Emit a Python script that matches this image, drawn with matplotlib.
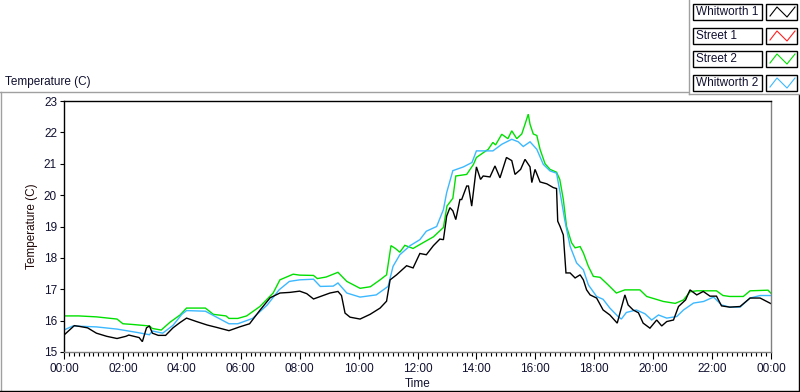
import matplotlib
matplotlib.use("Agg")
import matplotlib.pyplot as plt
from matplotlib.lines import Line2D
from matplotlib.patches import Rectangle
from matplotlib.ticker import MultipleLocator, FuncFormatter

plt.rcParams['font.family'] = ['Liberation Sans', 'DejaVu Sans']

# ---- data (hours since midnight, temperature in C) ----
whit1_h = [0.0, 0.35, 0.5, 0.8, 1.1, 1.45, 1.8, 2.1, 2.2, 2.55, 2.66, 2.8, 2.9, 3.0, 3.2, 3.45, 3.7,
           3.94, 4.16, 4.5, 4.86, 5.2, 5.6, 5.96, 6.3, 6.65, 7.0, 7.33, 7.67, 8.0, 8.24, 8.47, 9.03,
           9.3, 9.42, 9.54, 9.71, 10.05, 10.39, 10.73, 10.95, 11.07, 11.29, 11.63, 11.85, 12.08, 12.3,
           12.54, 12.76, 12.88, 12.99, 13.1, 13.2, 13.3, 13.44, 13.5, 13.67, 13.73, 13.84, 14.0, 14.14,
           14.23, 14.46, 14.63, 14.8, 15.02, 15.2, 15.31, 15.5, 15.65, 15.82, 15.88, 15.99, 16.16,
           16.39, 16.61, 16.72, 16.76, 16.84, 16.95, 17.04, 17.18, 17.35, 17.52, 17.63, 17.74, 17.86,
           18.08, 18.3, 18.53, 18.78, 18.9, 19.04, 19.15, 19.32, 19.5, 19.66, 19.89, 20.12, 20.29,
           20.46, 20.69, 20.86, 21.1, 21.25, 21.48, 21.7, 21.93, 22.15, 22.32, 22.6, 22.95, 23.29,
           23.63, 24.0]
whit1_t = [15.54, 15.84, 15.82, 15.77, 15.6, 15.5, 15.43, 15.5, 15.54, 15.46, 15.33, 15.77, 15.83, 15.6,
           15.53, 15.53, 15.77, 15.94, 16.08, 15.97, 15.86, 15.78, 15.68, 15.8, 15.9, 16.33, 16.73,
           16.88, 16.9, 16.94, 16.86, 16.69, 16.88, 16.93, 16.8, 16.24, 16.11, 16.05, 16.2, 16.4, 16.62,
           17.3, 17.46, 17.75, 17.68, 18.14, 18.1, 18.39, 18.6, 18.58, 19.33, 19.6, 19.5, 19.22, 19.86,
           19.86, 20.29, 20.29, 19.65, 20.9, 20.5, 20.61, 20.58, 20.93, 20.55, 21.2, 21.1, 20.66, 20.82,
           21.14, 20.9, 20.4, 20.82, 20.42, 20.36, 20.24, 20.21, 19.17, 19.0, 18.73, 17.52, 17.52, 17.36,
           17.46, 17.3, 16.98, 16.82, 16.72, 16.34, 16.18, 15.92, 16.34, 16.82, 16.5, 16.34, 16.25,
           15.92, 15.76, 16.02, 15.83, 15.97, 16.02, 16.45, 16.66, 16.98, 16.82, 16.93, 16.78, 16.78,
           16.47, 16.43, 16.45, 16.72, 16.72, 16.54]

street1_h = []
street1_t = []

street2_h = [0.0, 0.5, 1.1, 1.8, 2.0, 2.3, 2.9, 3.0, 3.3, 3.6, 3.94, 4.16, 4.8, 5.07, 5.5, 5.6, 5.9,
             6.2, 6.65, 7.1, 7.33, 7.78, 8.0, 8.47, 8.6, 8.9, 9.3, 9.6, 10.05, 10.4, 10.73, 10.95,
             11.1, 11.25, 11.4, 11.57, 11.85, 12.2, 12.54, 12.88, 13.0, 13.2, 13.3, 13.67, 13.9, 14.0,
             14.4, 14.56, 14.65, 14.86, 15.07, 15.2, 15.37, 15.54, 15.65, 15.76, 15.82, 15.93, 16.05,
             16.16, 16.33, 16.5, 16.72, 16.83, 16.95, 17.06, 17.23, 17.35, 17.52, 17.63, 17.8, 17.97,
             18.2, 18.47, 18.75, 19.04, 19.55, 19.78, 20.35, 20.75, 21.03, 21.25, 21.48, 22.15, 22.37,
             22.6, 23.06, 23.29, 23.9, 24.0]
street2_t = [16.15, 16.15, 16.12, 16.05, 15.9, 15.88, 15.83, 15.75, 15.7, 15.95, 16.18, 16.4, 16.4,
             16.2, 16.15, 16.07, 16.07, 16.15, 16.45, 16.88, 17.3, 17.48, 17.45, 17.44, 17.34, 17.39,
             17.54, 17.25, 17.03, 17.08, 17.3, 17.46, 18.39, 18.3, 18.18, 18.4, 18.3, 18.49, 18.67,
             18.97, 19.65, 19.9, 20.61, 20.66, 20.98, 21.2, 21.46, 21.68, 21.6, 21.94, 21.8, 22.05,
             21.8, 21.95, 22.26, 22.58, 22.26, 21.95, 21.9, 21.46, 21.0, 20.82, 20.73, 20.5, 19.86,
             19.0, 18.48, 18.32, 18.36, 18.16, 17.73, 17.41, 17.38, 17.14, 16.88, 16.98, 16.98, 16.77,
             16.61, 16.55, 16.66, 16.92, 16.95, 16.95, 16.8, 16.77, 16.77, 16.95, 16.97, 16.87]

whit2_h = [0.0, 0.3, 1.1, 1.8, 2.5, 2.9, 3.0, 3.35, 3.7, 4.0, 4.16, 4.8, 5.2, 5.6, 5.9, 6.4, 6.9,
           7.3, 7.65, 8.0, 8.47, 8.7, 9.14, 9.3, 9.6, 10.05, 10.6, 11.0, 11.17, 11.4, 11.75, 12.08,
           12.3, 12.65, 12.88, 12.99, 13.2, 13.56, 13.85, 14.0, 14.56, 14.86, 15.2, 15.42, 15.59,
           15.82, 16.05, 16.27, 16.5, 16.72, 16.84, 17.0, 17.18, 17.4, 17.63, 17.8, 18.08, 18.3,
           18.53, 18.81, 18.92, 19.09, 19.43, 19.72, 19.95, 20.18, 20.46, 20.8, 21.03, 21.37, 21.71,
           22.05, 22.32, 22.6, 22.95, 23.29, 23.63, 24.0]
whit2_t = [15.7, 15.83, 15.8, 15.73, 15.62, 15.55, 15.67, 15.6, 15.85, 16.2, 16.32, 16.3, 16.1, 15.9,
           15.9, 16.07, 16.5, 16.98, 17.25, 17.3, 17.32, 17.09, 17.1, 17.2, 16.88, 16.75, 16.82, 17.09,
           17.73, 18.1, 18.39, 18.58, 18.85, 19.0, 19.54, 20.08, 20.78, 20.9, 21.04, 21.41, 21.41,
           21.62, 21.78, 21.7, 21.55, 21.7, 21.46, 20.98, 20.77, 20.7, 20.08, 19.2, 18.37, 17.84,
           17.62, 17.14, 16.77, 16.68, 16.4, 16.13, 16.05, 16.26, 16.34, 16.22, 16.02, 16.18, 16.08,
           16.13, 16.34, 16.56, 16.61, 16.75, 16.5, 16.43, 16.43, 16.72, 16.8, 16.8]

series_names = ["Whitworth 1", "Street 1", "Street 2", "Whitworth 2"]
series_colors = ["#000000", "#ff2020", "#00e000", "#3cb8ff"]
series_data = [(whit1_h, whit1_t), (street1_h, street1_t), (street2_h, street2_t), (whit2_h, whit2_t)]

W, H = 800, 392
fig = plt.figure(figsize=(W / 100, H / 100), dpi=100)
fig.patch.set_facecolor("white")


def fx(px):
    return px / W


def fy(py):
    return 1 - py / H


# plot area
ax = fig.add_axes([fx(64), fy(352), fx(771) - fx(64), fy(101) - fy(352)])
draw_order = [2, 3, 1, 0]
for i in draw_order:
    hh, tt = series_data[i]
    ax.plot(hh, tt, color=series_colors[i], lw=1.0, solid_joinstyle="miter")

ax.set_xlim(0, 24)
ax.set_ylim(15, 23)
ax.xaxis.set_major_locator(MultipleLocator(2))
ax.xaxis.set_minor_locator(MultipleLocator(1 / 6))
ax.yaxis.set_major_locator(MultipleLocator(1))
ax.xaxis.set_major_formatter(FuncFormatter(lambda v, p: "%02d:00" % (int(round(v)) % 24)))
ax.yaxis.set_major_formatter(FuncFormatter(lambda v, p: "%d" % int(round(v))))
ax.tick_params(axis="x", which="major", length=5, width=0.8, direction="out", pad=3,
               labelsize=8.5, color="black", labelcolor="#101030")
ax.tick_params(axis="x", which="minor", length=3, width=0.8, direction="out", color="black")
ax.tick_params(axis="y", which="major", length=3, width=0.8, direction="out", pad=2,
               labelsize=8.5, color="black", labelcolor="#101030")
for s in ["left", "top"]:
    ax.spines[s].set_color("black")
    ax.spines[s].set_linewidth(1.0)
for s in ["right", "bottom"]:
    ax.spines[s].set_color("#808080")
    ax.spines[s].set_linewidth(1.0)

fig.text(fx(418), fy(384), "Time", ha="center", va="center", fontsize=8.5, color="#101030")
fig.text(fx(32), fy(226), "Temperature (C)", ha="center", va="center", rotation=90,
         fontsize=8.5, color="#200808")
fig.text(fx(5), fy(82), "Temperature (C)", ha="left", va="center", fontsize=8.5, color="#101030")


# outer panel frame
def hline(x0, x1, y, color):
    fig.add_artist(Line2D([fx(x0), fx(x1)], [fy(y), fy(y)], color=color, lw=1.0,
                          transform=fig.transFigure))


def vline(x, y0, y1, color):
    fig.add_artist(Line2D([fx(x), fx(x)], [fy(y0), fy(y1)], color=color, lw=1.0,
                          transform=fig.transFigure))


hline(0, 688, 92, "#a0a0a0")
vline(0.5, 92, 392, "#a0a0a0")
hline(0, 800, 391, "black")
vline(799, 95, 392, "black")
# legend panel
vline(689, 0, 94, "#a0a0a0")
hline(689, 800, 94, "#a0a0a0")

# legend entries
entry_top = [4, 28, 51, 75]
for i, name in enumerate(series_names):
    y0 = entry_top[i]
    hgt = 16
    fig.add_artist(Rectangle((fx(693), fy(y0 + hgt)), fx(762) - fx(693), fy(y0) - fy(y0 + hgt),
                             transform=fig.transFigure, facecolor="white", edgecolor="black", lw=1.0))
    fig.text(fx(696), fy(y0 + hgt / 2), name, ha="left", va="center", fontsize=8.5, color="#101030")
    fig.add_artist(Rectangle((fx(766), fy(y0 + hgt)), fx(797) - fx(766), fy(y0) - fy(y0 + hgt),
                             transform=fig.transFigure, facecolor="white", edgecolor="black", lw=1.0))
    xs = [770, 777, 787, 795]
    ys = [y0 + 12, y0 + 3, y0 + 13, y0 + 3]
    fig.add_artist(Line2D([fx(v) for v in xs], [fy(v) for v in ys], color=series_colors[i], lw=0.8,
                          transform=fig.transFigure))

fig.savefig("out.png", dpi=100, facecolor="white")
